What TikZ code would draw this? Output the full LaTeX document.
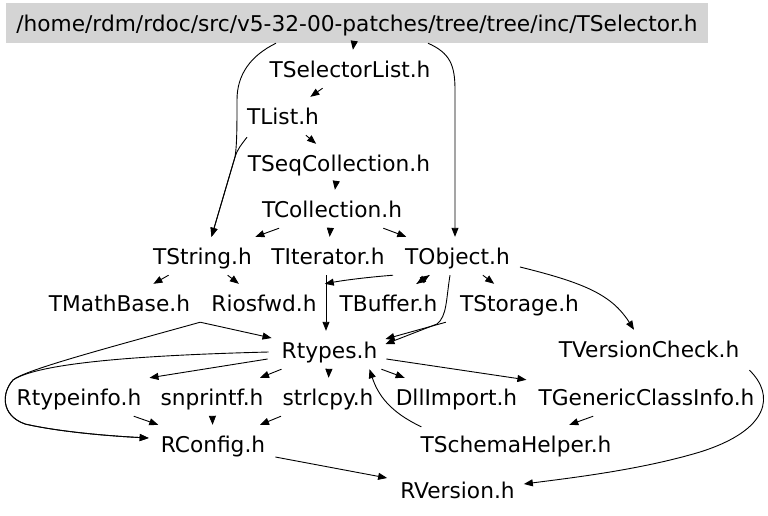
\documentclass[tikz,border=0pt]{standalone}
\usepackage{fontspec}
\setmainfont{DejaVu Sans}
\usetikzlibrary{arrows.meta,calc}
\newcommand\gvfont{\fontsize{21.7}{26}\selectfont}
\begin{document}
\begin{tikzpicture}[x=1pt,y=-1pt,
  gv/.style={font=\gvfont, text height=16pt, text depth=0pt, minimum height=38pt,
    inner xsep=8pt, inner ysep=0pt, anchor=base},
  gvtitle/.style={gv, fill=black!17, minimum height=40pt, inner xsep=10pt},
  arr/.style={draw=black, line width=0.9pt, -{Triangle[length=9pt,width=7pt]}}]
\useasboundingbox (0,0) rectangle (768,515);
\node[gvtitle] (title) at (357,31) {/home/rdm/rdoc/src/v5-32-00-patches/tree/tree/inc/TSelector.h};
\node[gv] (TSelectorList) at (350,77) {TSelectorList.h};
\node[gv] (TList) at (283,124) {TList.h};
\node[gv] (TSeqCollection) at (339,171) {TSeqCollection.h};
\node[gv] (TCollection) at (332,217) {TCollection.h};
\node[gv] (TString) at (202.5,264) {TString.h};
\node[gv] (TIterator) at (328,264) {TIterator.h};
\node[gv] (TObject) at (457.5,264) {TObject.h};
\node[gv] (TMathBase) at (119.5,311) {TMathBase.h};
\node[gv] (Riosfwd) at (264,311) {Riosfwd.h};
\node[gv] (TBuffer) at (388.5,311) {TBuffer.h};
\node[gv] (TStorage) at (519.5,311) {TStorage.h};
\node[gv] (Rtypes) at (329.5,358) {Rtypes.h};
\node[gv] (TVersionCheck) at (649,357) {TVersionCheck.h};
\node[gv] (Rtypeinfo) at (79,405) {Rtypeinfo.h};
\node[gv] (snprintf) at (212,405) {snprintf.h};
\node[gv] (strlcpy) at (328,405) {strlcpy.h};
\node[gv] (DllImport) at (456.5,405) {DllImport.h};
\node[gv] (TGenericClassInfo) at (646.5,405) {TGenericClassInfo.h};
\node[gv] (RConfig) at (213,452) {RConfig.h};
\node[gv] (TSchemaHelper) at (516,452) {TSchemaHelper.h};
\node[gv] (RVersion) at (457.5,498) {RVersion.h};
\coordinate (mergeS) at (235,157);

% top part
\draw[arr] (title) -- (TSelectorList);
\draw[arr] ($(title.south)+(-81,0)$) .. controls (250,56) and (237,75) .. (237,100)
  .. controls (237,125) and (237,145) .. (mergeS) -- ($(TString.north)+(9,0)$);
\draw[arr] ($(title.south)+(71,0)$) .. controls (450,53) and (455,65) .. (455,90)
  -- ($(TObject.north)+(-2.5,0)$);
\draw[arr] (TSelectorList) -- (TList);
\draw[arr] (TList) -- (TSeqCollection);
\draw[arr] ($(TList.south)+(-36,2)$) .. controls (241,145) and (237,150) .. (mergeS) -- ($(TString.north)+(9,0)$);
\draw[arr] (TSeqCollection) -- (TCollection);
\draw[arr] (TCollection) -- (TString);
\draw[arr] (TCollection) -- (TIterator);
\draw[arr] (TCollection) -- (TObject);
% middle
\draw[arr] (TString) -- (TMathBase);
\draw[arr] (TString) -- (Riosfwd);
\draw[arr] ($(TObject.south)+(-64.5,0)$) .. controls (370,277) and (345,280) .. (Riosfwd.north east);
\draw[arr] ($(TIterator.south)+(-2,0)$) -- ($(Rtypes.north)+(-3.5,0)$);
\draw[arr] (TObject) -- (TBuffer);
\draw[arr] (TBuffer) -- (TObject);
\draw[arr] (TObject) -- (TStorage);
\draw[arr] ($(TObject.south)+(-7.5,0)$) .. controls (446,300) and (447,316) .. (437,324)
  -- ($(Rtypes.east)+(0,-6)$);
\draw[arr] ($(TStorage.south west)+(-6,0)$) -- ($(Rtypes.east)+(0,-11)$);
\draw[arr] ($(TObject.east)+(2,11)$) .. controls (585,283) and (612,295) .. ($(TVersionCheck.north)+(-15,0)$);
\draw[arr] ($(TMathBase.south east)+(2,0)$) -- ($(Rtypes.west)+(-2,-12)$);
\draw[arr] ($(TMathBase.south east)+(2,0)$) .. controls (100,350) and (25,370) .. (13,380)
  .. controls (2,392) and (0,415) .. (25,424)
  .. controls (60,432) and (110,436) .. ($(RConfig.west)+(-4,-6)$);
\draw[arr] ($(Rtypes.west)+(-5,2)$) .. controls (150,355) and (40,362) .. (13,380)
  .. controls (2,392) and (0,415) .. (25,424)
  .. controls (60,432) and (110,436) .. ($(RConfig.west)+(-4,-6)$);
% lower
\draw[arr] ($(Rtypes.west)+(-6,9)$) -- (Rtypeinfo.north east);
\draw[arr] (Rtypes) -- (snprintf);
\draw[arr] (Rtypes) -- (strlcpy);
\draw[arr] (Rtypes) -- (DllImport);
\draw[arr] ($(Rtypes.east)+(1,9)$) -- ($(TGenericClassInfo.north west)+(-4,2)$);
\draw[arr] ($(TSchemaHelper.north west)+(9,2)$) .. controls (390,412) and (378,395) .. ($(Rtypes.south)+(40,0)$);
\draw[arr] (Rtypeinfo) -- (RConfig);
\draw[arr] (snprintf) -- (RConfig);
\draw[arr] (strlcpy) -- (RConfig);
\draw[arr] (TGenericClassInfo) -- (TSchemaHelper);
\draw[arr] ($(RConfig.east)+(2,13)$) -- ($(RVersion.west)+(-5,-12)$);
\draw[arr] ($(TVersionCheck.south east)+(2,2)$) .. controls (775,395) and (770,430) .. (700,452)
  .. controls (640,470) and (570,478) .. ($(RVersion.east)+(1,-6)$);
\end{tikzpicture}
\end{document}
